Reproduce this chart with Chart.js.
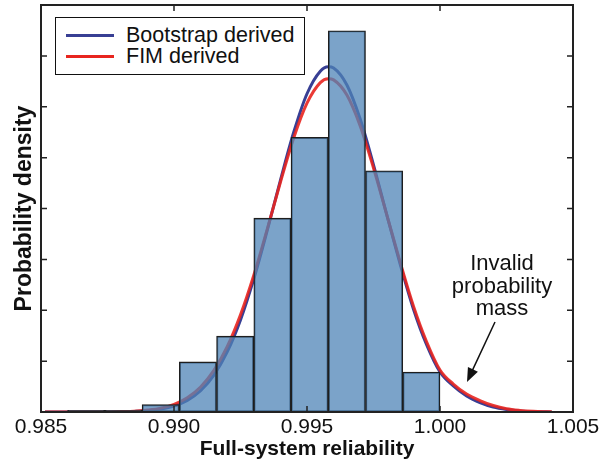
<!DOCTYPE html>
<html>
<head>
<meta charset="utf-8">
<script src="https://cdn.jsdelivr.net/npm/chart.js@4"></script>
<style>
  body { margin: 0; background: #fff; }
  #wrap { position: relative; width: 610px; height: 466px; font-family: "Liberation Sans", Arial, Helvetica, sans-serif; color: #111; }
  #legend { position: absolute; left: 55px; top: 17px; width: 248px; height: 56px; border: 1.5px solid #111; background: #fff; }
  .item { position: absolute; left: 0; height: 22px; font-size: 21.5px; line-height: 22px; }
  .item span.sw { position: absolute; left: 10px; top: 9.5px; width: 48px; height: 3px; }
  .item span.tx { position: absolute; left: 70px; top: 0; white-space: nowrap; }
  #note { position: absolute; left: 441px; top: 252px; width: 122px; text-align: center; font-size: 22px; line-height: 22.5px; }
</style>
</head>
<body>
<div id="wrap">
  <canvas id="histChart" width="610" height="466"></canvas>
  <div id="legend"></div>
  <div id="note">Invalid<br>probability<br>mass</div>
</div>
<script>
// histogram bins (centres) and heights
const binCentres = [0.9867, 0.9881, 0.9895, 0.9909, 0.9923, 0.9937, 0.9951, 0.9965, 0.9979, 0.9993];
const binHeights = [1.7, 1.7, 7.3, 49.2, 74.5, 190.5, 270, 374.7, 237, 39.3];

// fitted densities
const curveX = [0.98515, 0.9860, 0.9865, 0.9870, 0.9875, 0.9880, 0.9885, 0.9890, 0.9895, 0.9900,
  0.9905, 0.9910, 0.9915, 0.9920, 0.9925, 0.9930, 0.9935, 0.9940, 0.9945, 0.9950,
  0.9955, 0.9958, 0.9960, 0.9965, 0.9970, 0.9975, 0.9980, 0.9985, 0.9990, 0.9995,
  1.0000, 1.0005, 1.0010, 1.0015, 1.0020, 1.0025, 1.0030, 1.0035, 1.0040, 1.0042];
const bootstrapY = [0, 0, 0, 0, 0.1, 0.2, 0.6, 1.3, 2.9, 5.9,
  11.4, 20.9, 36.2, 59.0, 90.5, 130.8, 178.0, 227.7, 274.9, 312.8,
  335.0, 339.3, 338.1, 321.4, 287.9, 242.9, 193.8, 145.6, 101.3, 65.9,
  39.3, 25.6, 15.7, 9.3, 4.9, 2.5, 1.1, 0.5, 0.2, 0.1];
const fimY = [0, 0, 0, 0.1, 0.1, 0.4, 0.8, 1.9, 3.8, 7.5,
  14.0, 24.6, 40.9, 64.2, 95.6, 134.5, 179.2, 225.8, 269.3, 303.5,
  323.7, 327.5, 326.4, 311.5, 281.1, 239.8, 193.8, 147.5, 104.3, 68.8,
  41.3, 27.5, 17.7, 11.3, 6.4, 3.2, 1.6, 0.7, 0.3, 0.2];

const xTicks = [0.985, 0.990, 0.995, 1.000, 1.005];
const seriesNames = ['Bootstrap derived', 'FIM derived'];
const seriesColors = ['#383f94', '#e8251f'];

const FONT = '"Liberation Sans", Arial, Helvetica, sans-serif';

const toPts = (xs, ys) => xs.map((x, i) => ({ x: x, y: ys[i] }));

// frame, inward ticks and the arrow
const framePlugin = {
  id: 'frame',
  afterDraw(chart) {
    const { ctx, chartArea: a, scales: { x, y } } = chart;
    ctx.save();
    ctx.strokeStyle = '#222';
    ctx.lineWidth = 1.5;
    ctx.beginPath();
    xTicks.forEach(v => {
      const p = x.getPixelForValue(v);
      ctx.moveTo(p, a.bottom); ctx.lineTo(p, a.bottom - 6);
      ctx.moveTo(p, a.top); ctx.lineTo(p, a.top + 6);
    });
    y.ticks.forEach(t => {
      const p = y.getPixelForValue(t.value);
      ctx.moveTo(a.left, p); ctx.lineTo(a.left + 6, p);
      ctx.moveTo(a.right, p); ctx.lineTo(a.right - 6, p);
    });
    ctx.stroke();
    ctx.lineWidth = 2;
    ctx.strokeRect(a.left, a.top, a.width, a.height);

    // arrow to the tail
    const x0 = 495, y0 = 322, x1 = 467, y1 = 382;
    const ang = Math.atan2(y1 - y0, x1 - x0);
    ctx.strokeStyle = '#111';
    ctx.fillStyle = '#111';
    ctx.lineWidth = 1.5;
    ctx.beginPath();
    ctx.moveTo(x0, y0);
    ctx.lineTo(x1 - 10 * Math.cos(ang), y1 - 10 * Math.sin(ang));
    ctx.stroke();
    ctx.beginPath();
    ctx.moveTo(x1, y1);
    ctx.lineTo(x1 - 14 * Math.cos(ang) + 5.5 * Math.sin(ang), y1 - 14 * Math.sin(ang) - 5.5 * Math.cos(ang));
    ctx.lineTo(x1 - 14 * Math.cos(ang) - 5.5 * Math.sin(ang), y1 - 14 * Math.sin(ang) + 5.5 * Math.cos(ang));
    ctx.closePath();
    ctx.fill();
    ctx.restore();
  }
};

const chart = new Chart(document.getElementById('histChart'), {
  type: 'line',
  data: {
    datasets: [
      {
        type: 'bar',
        data: toPts(binCentres, binHeights),
        backgroundColor: 'rgba(79,132,183,0.75)',
        borderColor: '#1e1e1e',
        borderWidth: 1.3,
        borderSkipped: false,
        barPercentage: 1,
        categoryPercentage: 1,
        order: -1
      },
      {
        label: seriesNames[0],
        data: toPts(curveX, bootstrapY),
        borderColor: seriesColors[0],
        borderWidth: 3,
        pointRadius: 0,
        cubicInterpolationMode: 'monotone',
        order: 1
      },
      {
        label: seriesNames[1],
        data: toPts(curveX, fimY),
        borderColor: 'rgba(232,37,31,0.9)',
        borderWidth: 3,
        pointRadius: 0,
        cubicInterpolationMode: 'monotone',
        order: 0
      }
    ]
  },
  options: {
    responsive: false,
    animation: false,
    devicePixelRatio: 1,
    layout: { padding: { top: 5, right: 37, bottom: 0, left: 0 } },
    plugins: {
      legend: { display: false },
      tooltip: { enabled: false }
    },
    scales: {
      x: {
        type: 'linear',
        min: 0.985,
        max: 1.005,
        offset: false,
        afterBuildTicks: s => { s.ticks = xTicks.map(v => ({ value: v })); },
        ticks: {
          callback: v => v.toFixed(3),
          font: { size: 21, family: FONT },
          color: '#111',
          padding: 3,
          maxRotation: 0,
          autoSkip: false
        },
        grid: { display: false, drawTicks: false, offset: false },
        border: { display: false },
        title: {
          display: true,
          text: 'Full-system reliability',
          color: '#111',
          font: { size: 21, weight: 'bold', family: FONT, lineHeight: 1 },
          padding: { top: 0, bottom: 6 }
        },
        afterFit: s => { s.height = 54; }
      },
      y: {
        min: 0,
        max: 400,
        ticks: { display: false, stepSize: 50 },
        grid: { display: false, drawTicks: false },
        border: { display: false },
        title: {
          display: true,
          text: 'Probability density',
          color: '#111',
          font: { size: 23, weight: 'bold', family: FONT, lineHeight: 1 },
          padding: { top: 13, bottom: 0 }
        },
        afterFit: s => { s.width = 41; }
      }
    }
  },
  plugins: [framePlugin]
});

// legend box
const legend = document.getElementById('legend');
seriesNames.forEach((name, i) => {
  const row = document.createElement('div');
  row.className = 'item';
  row.style.top = (6 + i * 21) + 'px';
  row.innerHTML = '<span class="sw" style="background:' + seriesColors[i] + '"></span><span class="tx">' + name + '</span>';
  legend.appendChild(row);
});
</script>
</body>
</html>
